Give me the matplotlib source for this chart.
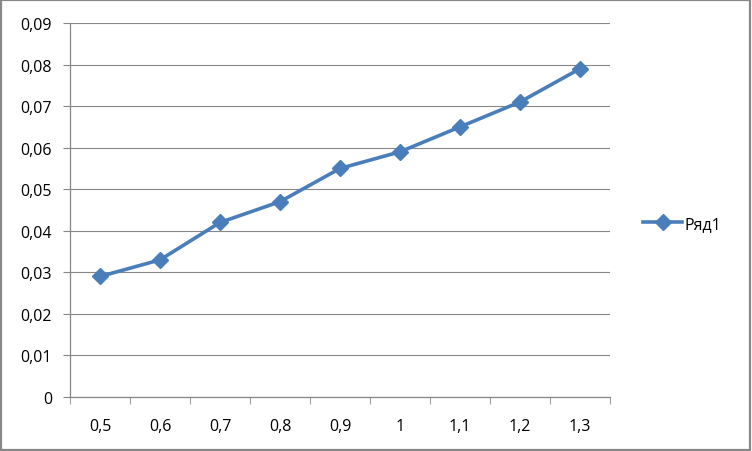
import numpy as np
import matplotlib.pyplot as plt
from matplotlib.patches import Rectangle

categories = ['0,5', '0,6', '0,7', '0,8', '0,9', '1', '1,1', '1,2', '1,3']
values = [0.029, 0.033, 0.042, 0.047, 0.055, 0.059, 0.065, 0.071, 0.079]
yticks = [0, 0.01, 0.02, 0.03, 0.04, 0.05, 0.06, 0.07, 0.08, 0.09]
series_name = 'Ряд1'

plt.rcParams['font.family'] = ['Open Sans', 'DejaVu Sans']
plt.rcParams['font.size'] = 11.5

fig = plt.figure(figsize=(7.52, 4.52), dpi=100)
ax = fig.add_axes([70 / 752, 54 / 452, 540 / 752, 374 / 452])

x = np.arange(len(categories))
line, = ax.plot(x, values, color='#4A7EBB', lw=2.6, marker='D', ms=8.5,
                markeredgecolor='#4A7EBB', label=series_name, zorder=3)

ax.set_xlim(-0.5, len(categories) - 0.5)
ax.set_ylim(0, 0.09)
ax.set_yticks(yticks)
ax.set_yticklabels(['0' if v == 0 else f'{v:.2f}'.replace('.', ',') for v in yticks])
ax.set_xticks(x)
ax.set_xticklabels(categories)
ax.set_xticks(np.arange(-0.5, len(categories)), minor=True)
ax.tick_params(axis='x', which='major', length=0, pad=15)
ax.tick_params(axis='x', which='minor', length=5, color='#878787', direction='out')
ax.tick_params(axis='y', length=5, color='#878787', pad=8)
ax.grid(axis='y', color='#878787', lw=0.8)
ax.set_axisbelow(True)
for s in ['top', 'right']:
    ax.spines[s].set_visible(False)
for s in ['left', 'bottom']:
    ax.spines[s].set_color('#878787')
    ax.spines[s].set_linewidth(0.9)

fig.legend(handles=[line], loc='center left', bbox_to_anchor=(637 / 752, 1 - 225 / 452),
           frameon=False, handlelength=2.4, handletextpad=0.2, borderaxespad=0)

fig.patches.append(Rectangle((0.001, 0.002), 0.997, 0.996, transform=fig.transFigure,
                             fill=False, edgecolor='#888888', lw=1.6))

fig.savefig('out.png', dpi=100)
